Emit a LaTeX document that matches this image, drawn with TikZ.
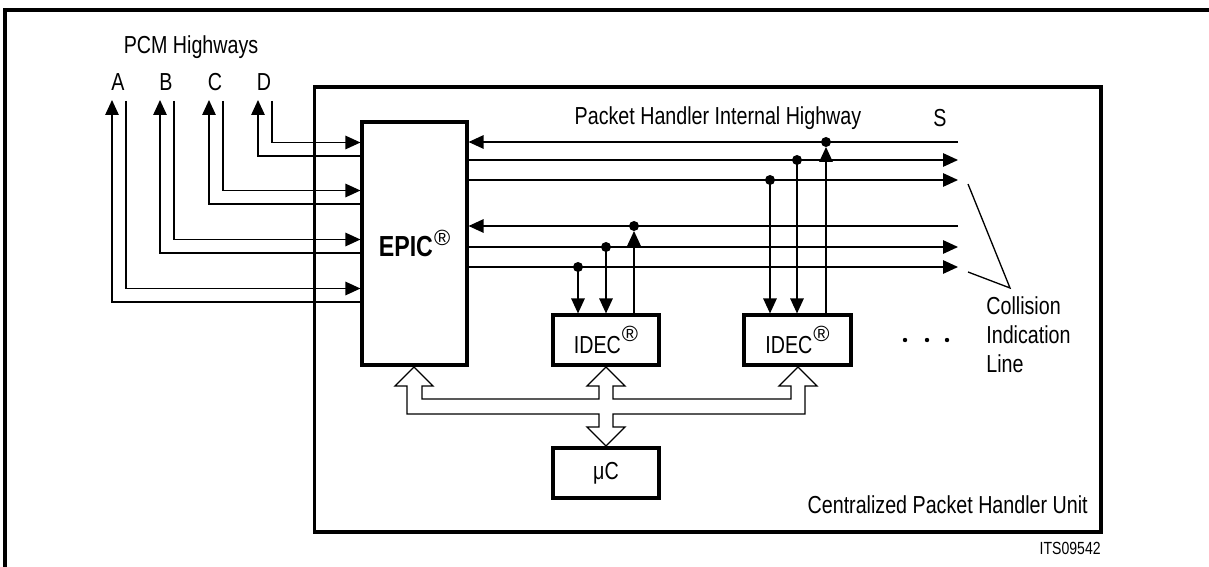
\documentclass[tikz,border=0pt]{standalone}
\usepackage{fontspec}
\setmainfont{Liberation Sans}[FakeStretch=0.8]
\newfontfamily\regfont{Liberation Sans}
\usepackage{graphicx}
\usepackage{tikz}
\usetikzlibrary{arrows.meta, positioning, calc}

\newcommand{\regmark}{\kern0.6pt\raisebox{6.5pt}{\regfont\fontsize{12.5}{12.5}\selectfont ®}}

\begin{document}
\begin{tikzpicture}[x=0.02cm, y=-0.02cm,
    wire/.style={line width=0.75pt},
    arr/.style={wire, -{Triangle[length=0.3cm, width=0.27cm]}},
    blk/.style={draw, line width=1.8pt, inner sep=0pt, font=\fontsize{14}{17}\selectfont},
    lbl/.style={inner sep=0pt, font=\fontsize{14}{16.5}\selectfont}]
    \useasboundingbox (0,0) rectangle (1209,567);

    % Frame
    \draw[line width=1.8pt] (5,567) -- (5,10) -- (1209,10);

    % Boxes
    \node[blk, minimum width=15.74cm, minimum height=8.9cm] (cphu) at (707.5,309.5) {};
    \node[blk, minimum width=2.1cm, minimum height=4.86cm] (epic) at (414.5,243.5)
        {{\fontsize{16.5}{19}\selectfont\bfseries EPIC}\regmark};
    \node[blk, minimum width=2.12cm, minimum height=1cm] (idecA) at (606,340) {IDEC\regmark};
    \node[blk, minimum width=2.14cm, minimum height=1cm] (idecB) at (797.5,340) {IDEC\regmark};
    \node[blk, minimum width=2.12cm, minimum height=1cm] (uc) at (606,473) {μC};

    % Labels
    \node[lbl] (pcm) at (191,47) {PCM Highways};
    \node[lbl] (phih) at (718,118) {Packet Handler Internal Highway};
    \node[lbl] (hwS) at (940,118) {S};
    \node[lbl, anchor=east] (cphuLbl) at (1088,505) {Centralized Packet Handler Unit};
    \node[lbl, anchor=east, font=\fontsize{10}{12}\selectfont] (its) at (1101,548) {ITS09542};
    \node[lbl, anchor=north west, align=left] (coll) at (986,296) {Collision\\Indication\\Line};

    % PCM highways A..D
    \foreach \p/\x/\y in {A/112/302, B/160/253, C/209/204, D/258/156} {
        \node[lbl] (lab\p) at (\x+6,82) {\p};
        \coordinate (up\p) at (\x,100);
        \coordinate (dn\p) at (\x+14,101);
        \draw[arr] (epic.west |- 0,\y) -| (up\p);
        \draw[arr] (dn\p) |- (epic.west |- 0,\y-13.5);
    }

    % Internal highway lines
    \foreach \i/\y in {1/142, 2/160, 3/180, 4/226, 5/247, 6/267}
        \coordinate (h\i) at (958,\y);
    \draw[arr] (h1) -- (epic.east |- h1);
    \draw[arr] (h4) -- (epic.east |- h4);
    \foreach \i in {2,3,5,6}
        \draw[arr] (epic.east |- h\i) -- (h\i);

    % Taps to IDECs
    \coordinate (tA1) at (578,267);
    \coordinate (tA2) at (606,247);
    \coordinate (tA3) at (634,226);
    \coordinate (tB1) at (770,180);
    \coordinate (tB2) at (797,160);
    \coordinate (tB3) at (826,142);
    \foreach \t in {tA1,tA2,tA3,tB1,tB2,tB3}
        \fill (\t) circle (5);
    \draw[arr] (tA1) -- (tA1 |- idecA.north);
    \draw[arr] (tA2) -- (tA2 |- idecA.north);
    \draw[arr, shorten >=0.1cm] (tA3 |- idecA.north) -- (tA3);
    \draw[arr] (tB1) -- (tB1 |- idecB.north);
    \draw[arr] (tB2) -- (tB2 |- idecB.north);
    \draw[arr, shorten >=0.1cm] (tB3 |- idecB.north) -- (tB3);

    % Collision indication
    \coordinate (cl) at (1010,288);
    \draw[wire] (968,184) -- (cl) -- (968,272);

    % More IDECs
    \foreach \x in {905,927,947}
        \fill (\x,340) circle (2.2);

    % Bus
    \draw[wire, fill=white] (414,367) -- (433,386) -- (422,386) -- (422,399) -- (599,399)
        -- (599,386) -- (587,386) -- (606,367) -- (625,386) -- (613,386) -- (613,399)
        -- (791,399) -- (791,386) -- (779,386) -- (798,367) -- (817,386) -- (805,386)
        -- (805,414) -- (613,414) -- (613,427) -- (625,427) -- (606,446) -- (587,427)
        -- (599,427) -- (599,414) -- (407,414) -- (407,386) -- (395,386) -- cycle;
\end{tikzpicture}
\end{document}
